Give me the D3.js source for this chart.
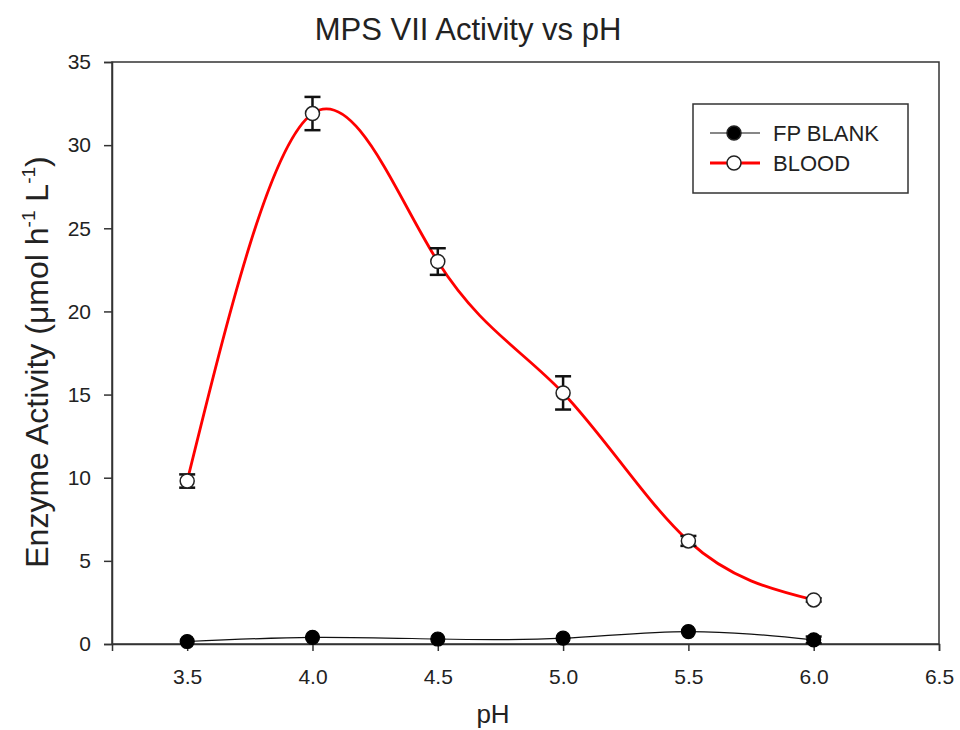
<!DOCTYPE html>
<html>
<head>
<meta charset="utf-8">
<script src="https://cdn.jsdelivr.net/npm/d3@7"></script>
<style>
  body { margin: 0; background: #fff; }
  text { font-family: "Liberation Sans", Arial, sans-serif; fill: #222; }
</style>
</head>
<body>
<div id="chart"></div>
<script>
// data
let phValues = [3.5, 4.0, 4.5, 5.0, 5.5, 6.0];
let blankValues = [0.15, 0.4, 0.3, 0.35, 0.75, 0.25];
let blankErrors = [0, 0, 0, 0, 0, 0.2];
let bloodValues = [9.8, 31.9, 23.0, 15.1, 6.2, 2.65];
let bloodErrors = [0.4, 1.0, 0.8, 1.0, 0.3, 0.1];
let xTicks = [3.5, 4.0, 4.5, 5.0, 5.5, 6.0, 6.5];
let yTicks = [0, 5, 10, 15, 20, 25, 30, 35];
let seriesNames = ['FP BLANK', 'BLOOD'];

let svgWidth = 960;
let svgHeight = 730;
let margin = { top: 62, right: 21, bottom: 86, left: 112 };
let width = svgWidth - margin.left - margin.right;
let height = svgHeight - margin.top - margin.bottom;

let svg = d3.select('#chart').append('svg')
  .attr('width', svgWidth)
  .attr('height', svgHeight);

let g = svg.append('g')
  .attr('transform', `translate(${margin.left}, ${margin.top})`);

let x = d3.scaleLinear().domain([3.2, 6.5]).range([0, width]);
let y = d3.scaleLinear().domain([0, 35]).range([height, 0]);

// frame
g.append('rect')
  .attr('width', width).attr('height', height)
  .attr('fill', 'none').attr('stroke', '#333').attr('stroke-width', 1.5);

// axes
let xAxis = g.append('g')
  .attr('transform', `translate(0, ${height})`)
  .call(d3.axisBottom(x).tickValues(xTicks).tickFormat(d3.format('.1f')).tickSizeOuter(0).tickSize(7).tickPadding(18));
let yAxis = g.append('g')
  .call(d3.axisLeft(y).tickValues(yTicks).tickSizeOuter(0).tickSize(8).tickPadding(13));
[xAxis, yAxis].forEach(a => {
  a.select('.domain').attr('stroke', '#333').attr('stroke-width', 1.5);
  a.selectAll('.tick line').attr('stroke', '#333').attr('stroke-width', 1.5);
  a.selectAll('.tick text').attr('font-size', 21).attr('fill', '#222')
    .attr('font-family', '"Liberation Sans", Arial, sans-serif');
});

// titles
svg.append('text')
  .attr('x', 468).attr('y', 40)
  .attr('text-anchor', 'middle').attr('font-size', 31)
  .text('MPS VII Activity vs pH');
svg.append('text')
  .attr('x', 493).attr('y', 723)
  .attr('text-anchor', 'middle').attr('font-size', 26)
  .text('pH');
let yLab = svg.append('text')
  .attr('transform', `translate(48, 362) rotate(-90)`)
  .attr('text-anchor', 'middle').attr('font-size', 32);
yLab.append('tspan').text('Enzyme Activity (\u03bcmol h');
yLab.append('tspan').attr('font-size', 19).attr('dy', -13).text('-1');
yLab.append('tspan').attr('dy', 13).text(' L');
yLab.append('tspan').attr('font-size', 19).attr('dy', -13).text('-1');
yLab.append('tspan').attr('dy', 13).text(')');

let blank = phValues.map((p, i) => ({ x: p, y: blankValues[i], e: blankErrors[i] }));
let blood = phValues.map((p, i) => ({ x: p, y: bloodValues[i], e: bloodErrors[i] }));

let line = d3.line().x(d => x(d.x)).y(d => y(d.y)).curve(d3.curveNatural);

g.append('path').datum(blank)
  .attr('d', line).attr('fill', 'none').attr('stroke', '#111').attr('stroke-width', 1.2);
g.append('path').datum(blood)
  .attr('d', line).attr('fill', 'none').attr('stroke', '#ff0000').attr('stroke-width', 2.8);

// error bars
function drawErrors(data) {
  let eb = g.append('g').selectAll('g').data(data.filter(d => d.e > 0)).enter().append('g')
    .attr('stroke', '#111').attr('stroke-width', 2.5);
  eb.append('line')
    .attr('x1', d => x(d.x)).attr('x2', d => x(d.x))
    .attr('y1', d => y(d.y - d.e)).attr('y2', d => y(d.y + d.e));
  eb.append('line')
    .attr('x1', d => x(d.x) - 8).attr('x2', d => x(d.x) + 8)
    .attr('y1', d => y(d.y + d.e)).attr('y2', d => y(d.y + d.e));
  eb.append('line')
    .attr('x1', d => x(d.x) - 8).attr('x2', d => x(d.x) + 8)
    .attr('y1', d => y(d.y - d.e)).attr('y2', d => y(d.y - d.e));
}
drawErrors(blank);
drawErrors(blood);

g.append('g').selectAll('circle').data(blank).enter().append('circle')
  .attr('cx', d => x(d.x)).attr('cy', d => y(d.y)).attr('r', 7)
  .attr('fill', '#000').attr('stroke', '#000').attr('stroke-width', 1.2);
g.append('g').selectAll('circle').data(blood).enter().append('circle')
  .attr('cx', d => x(d.x)).attr('cy', d => y(d.y)).attr('r', 7)
  .attr('fill', '#fff').attr('stroke', '#222').attr('stroke-width', 1.5);

// legend
let legend = svg.append('g').attr('transform', 'translate(693, 104)');
legend.append('rect')
  .attr('width', 215).attr('height', 89)
  .attr('fill', '#fff').attr('stroke', '#333').attr('stroke-width', 1.5);
let items = legend.selectAll('.item').data(seriesNames).enter().append('g')
  .attr('transform', (d, i) => `translate(0, ${29 + i * 30})`);
items.append('line')
  .attr('x1', 17).attr('x2', 67)
  .attr('stroke', (d, i) => i === 0 ? '#111' : '#ff0000')
  .attr('stroke-width', (d, i) => i === 0 ? 1.2 : 2.8);
items.append('circle')
  .attr('cx', 41).attr('r', 7)
  .attr('fill', (d, i) => i === 0 ? '#000' : '#fff')
  .attr('stroke', '#222').attr('stroke-width', 1.5);
items.append('text')
  .attr('x', 80).attr('y', 8).attr('font-size', 22)
  .text(d => d);
</script>
</body>
</html>
